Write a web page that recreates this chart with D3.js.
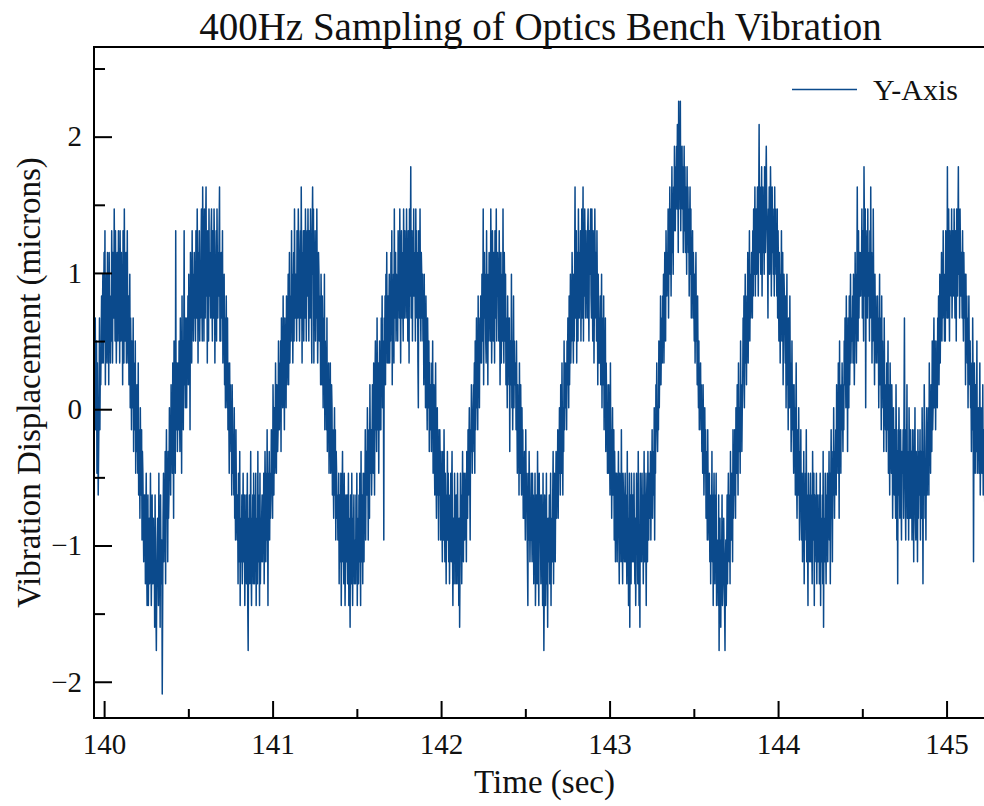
<!DOCTYPE html>
<html>
<head>
<meta charset="utf-8">
<script src="https://cdn.jsdelivr.net/npm/d3@7"></script>
<style>
  body { margin: 0; background: #fff; }
  text { font-family: "Liberation Serif", "Times New Roman", serif; fill: #111; }
</style>
</head>
<body>
<div id="chart"></div>
<script>
const width = 984;
const height = 806;
const margin = { top: 47, right: -3, bottom: 88, left: 94 };

// quantised displacement levels visible in the trace (microns), lowest first
const levels = [-2.09, -1.93, -1.77, -1.60, -1.44, -1.28, -1.12, -0.96, -0.80, -0.63,
    -0.47, -0.31, -0.15, 0.01, 0.18, 0.34, 0.50, 0.67, 0.83, 0.99,
    1.15, 1.31, 1.47, 1.63, 1.78, 1.93, 2.09, 2.26];
const levelCodes = "abcdefghijklmnopqrstuvwxyzAB";

const startTime = 139.94;
const sampleRate = 400;
const timeDomain = [139.94, 145.24];
const valueDomain = [-2.266, 2.658];

const xMajor = [140, 141, 142, 143, 144, 145];
const xMinor = [140.5, 141.5, 142.5, 143.5, 144.5];
const yMajor = [-2, -1, 0, 1, 2];
const yMinor = [-1.5, -0.5, 0.5, 1.5, 2.5];

// one string per 50 ms, one character per sample (index into levels)
const samples = [
    "qoprmnqkpmjlnrmpoqsp", "rtpsuqvosrtpuqsoursp", "sqvtpusrwtqvsprutqvs", "tpvsqurtovrpwsqtuprv",
    "rpsoqtnrpmqonrlpomqk", "nlomkpjmlinkjmhlkigj", "hjfikgehjehifgkhegjf", "gifhdjgecfhigekfhdjg",
    "fhaeikgjhlfjmikglijn", "kmjolnkpmiqlnkvmopln", "pmqnlropksnqmpvoqnrp", "nrpsotqrmusqpvrtqsur",
    "tqvsrwtpusvqtruwsqxt", "uqwtrvxsupvtqwsutrvw", "sqvtrwuptsvqwtrusvxq", "tqusrvpsqtornqsonrmp",
    "nkpmolnjomkljnikhmji", "hjfkigleihgjfhkgijeh", "gjfhkecigjfhlgeihjfk", "hfjgkeihflgjhekfhgij",
    "gjhkfiljgkhmiekjlhki", "jmkliomjnklpmkonlmqn", "mpnqlroqnsopmrpqnsop", "qtoruprsqvrtpsuqwsrt",
    "sqvtrwusqtvrxtpusvqt", "vrwtquvswtqvurwtspvx", "twpusvqtrwsprutqsrot", "rosqnrptmqopmrlonpkn",
    "mpklonjmkilnjmhlkijh", "hkfjigkehjlgifkhegjh", "gjfhkeigdjhfkgeihjfg", "hfjgkeihfjgkhelgijfk",
    "jgkimhlkjnlhkmiolkmj", "lonkpmjoqmnlrnmpkoqm", "pmrosnqphrpsotquprsp", "rtpsqurvosqtpwrsuqts",
    "sqvturwsptvrusqwtrvs", "trwsuqvtpwsuyrtvqusw", "sutqwrvsupnvtrwsqutr", "tqsotprnsqomrpnqlpmo",
    "olpmqknoljmpkimnjlhm", "jmkhljiglkhmjgkifjhl", "hkgjfihkgjlheihfkgjf", "gjfkhieidgkhjfilhgkj",
    "hkijglkimjlnkhmlonkm", "lonpkqmornpmsoqnrpsq", "ptqrwosurtqpvrsotqur", "sqwtprvsqutpvsrwqtus",
    "tqvsorupstqwrpusqtor", "qnsprorlqpotnqmpsnqo", "opmqnkolnjpmkoljnkmi", "kiljhmjkigekhljgihki",
    "gkhjfihkegjhfligekhj", "hfjgiekgcfjhegkfhdig", "gjfhkeihgjlfikhgjlik", "jmilknmjolkpmjnlqmop",
    "npmqorpnsoqtprqusrpt", "qtxrsvpusqwtrusvqtwr", "txqvswurvturvwsqvtuw", "srwtqvupswtruqvsotrp",
    "rpsoqtnrposmqnrlpnok", "nkomljpkmilnjkmhljgk", "hkgjilhfkijgmihfkjhg", "ikgjhflhiegkdjhfkigj",
    "jgkhfiegkhjfliegdkhj", "gkhjfilgkihejkglihkj", "ilhkjmikljnhlkompmln", "mqnposoqrpsqtprusqvt",
    "sutwrvuxtwsvyuwtxvzw", "vyxzwAyuBwzxBvyxzwyu", "wzvyuxwtyvxuwsvxtwru", "tvrusqtpsuqrospnqmon",
    "pmolnkomjlnkmilkhmji", "hkgjfihlgjeikhfjgkeh", "fhejcgifdhgjefhigecg", "hegjfikhgjflihkjgmik",
    "jmkinlkomjpmlnkqmoln", "orpsnqtprosqupsrvqtr", "sutrvswtuxsvwtuxvswA", "uxvtwysvxuwtyvuxzwvu",
    "rwuxtvywsvxuwtvsxuwt", "uswrvtqusptrvqsuorts", "rpsnqtoqmrpnsoplnqmo", "mkolnjmpkilmjnkhljmi",
    "hkgjilfjhkimgjhekhjg", "ikgjhflihkejgihkfjgi", "gjfhkeihgjfldihgkhfj", "hkgjilhkfjmikgljnkil",
    "kmjolnkpmiqlnkompnlo", "mqorpnsoqlrpnsoqtprq", "qsptroqurtpsxsqvrtus", "sutwrvtqyvswntuvrwsu",
    "tqvrxsuptqwsrotqsprq", "sprnqtorpmsoqnplronm", "olpmnqkomjpnlkomilnk", "jmkiolhlfmjnkilmjhlk",
    "kminrljhmkoijlhnkimj", "ilhmjkgmjnihlkjgmikl", "jmhlkinkfljomikhlnjl", "knjplmkonlqmnprnoqmp",
    "oqnrpsoqtpsruqtrvstq", "tqvsuryrtwsqvtuswrtv", "uswtrvuqwtsvytvrwusu", "trvsqusrtotqsprnqspo",
    "qnolpmrogmpnkolmqknl", "nkmpjlnmklojmlkinlkm"
];

const lineColor = "#0b4a8c";

const data = samples.join("").split("").map((c, i) => ({
    t: startTime + i / sampleRate,
    v: levels[levelCodes.indexOf(c)]
}));

const svg = d3.select("#chart")
    .append("svg")
    .attr("width", width)
    .attr("height", height);

const x = d3.scaleLinear()
    .domain(timeDomain)
    .range([margin.left, width - margin.right]);

const y = d3.scaleLinear()
    .domain(valueDomain)
    .range([height - margin.bottom, margin.top]);

svg.append("clipPath")
    .attr("id", "plot-clip")
    .append("rect")
    .attr("x", margin.left)
    .attr("y", margin.top)
    .attr("width", width - margin.right - margin.left)
    .attr("height", height - margin.bottom - margin.top);

// ---- trace ----
const line = d3.line()
    .x(d => x(d.t))
    .y(d => y(d.v));

svg.append("path")
    .datum(data)
    .attr("clip-path", "url(#plot-clip)")
    .attr("fill", "none")
    .attr("stroke", lineColor)
    .attr("stroke-width", 1.5)
    .attr("stroke-linejoin", "round")
    .attr("d", line);

// ---- axes (ticks point inward) ----
const fmt = d => d < 0 ? "\u2212" + Math.abs(d) : String(d);

const xAxis = svg.append("g")
    .attr("transform", `translate(0,${height - margin.bottom})`)
    .call(d3.axisBottom(x).tickValues(xMajor).tickSize(-17).tickPadding(15).tickFormat(fmt));
svg.append("g")
    .attr("transform", `translate(0,${height - margin.bottom})`)
    .call(d3.axisBottom(x).tickValues(xMinor).tickSize(-9).tickFormat(""));

const yAxis = svg.append("g")
    .attr("transform", `translate(${margin.left},0)`)
    .call(d3.axisLeft(y).tickValues(yMajor).tickSize(-18).tickPadding(12).tickFormat(fmt));
svg.append("g")
    .attr("transform", `translate(${margin.left},0)`)
    .call(d3.axisLeft(y).tickValues(yMinor).tickSize(-11).tickFormat(""));

svg.selectAll(".domain").remove();
svg.selectAll(".tick line").attr("stroke", "#000").attr("stroke-width", 2);
xAxis.selectAll("text").attr("font-size", 29).attr("fill", "#111");
yAxis.selectAll("text").attr("font-size", 29).attr("fill", "#111");
svg.selectAll(".tick text").style("font-family", "'Liberation Serif', 'Times New Roman', serif");

// frame
svg.append("rect")
    .attr("x", margin.left)
    .attr("y", margin.top)
    .attr("width", width - margin.right - margin.left)
    .attr("height", height - margin.bottom - margin.top)
    .attr("fill", "none")
    .attr("stroke", "#000")
    .attr("stroke-width", 2);

// ---- labels ----
const plotMidX = (margin.left + width - margin.right) / 2;
const plotMidY = (margin.top + height - margin.bottom) / 2;

svg.append("text")
    .attr("x", plotMidX)
    .attr("y", 40)
    .attr("text-anchor", "middle")
    .attr("font-size", 39)
    .text("400Hz Sampling of Optics Bench Vibration");

svg.append("text")
    .attr("x", plotMidX + 4)
    .attr("y", 793)
    .attr("text-anchor", "middle")
    .attr("font-size", 33)
    .text("Time (sec)");

svg.append("text")
    .attr("transform", `translate(40,${plotMidY}) rotate(-90)`)
    .attr("text-anchor", "middle")
    .attr("font-size", 33)
    .text("Vibration Displacement (microns)");

// ---- legend ----
const legend = svg.append("g").attr("transform", "translate(792,89)");
legend.append("line")
    .attr("x1", 0).attr("x2", 65)
    .attr("y1", 0.5).attr("y2", 0.5)
    .attr("stroke", lineColor)
    .attr("stroke-width", 1.5);
legend.append("text")
    .attr("x", 81)
    .attr("y", 11)
    .attr("font-size", 30)
    .text("Y-Axis");
</script>
</body>
</html>
